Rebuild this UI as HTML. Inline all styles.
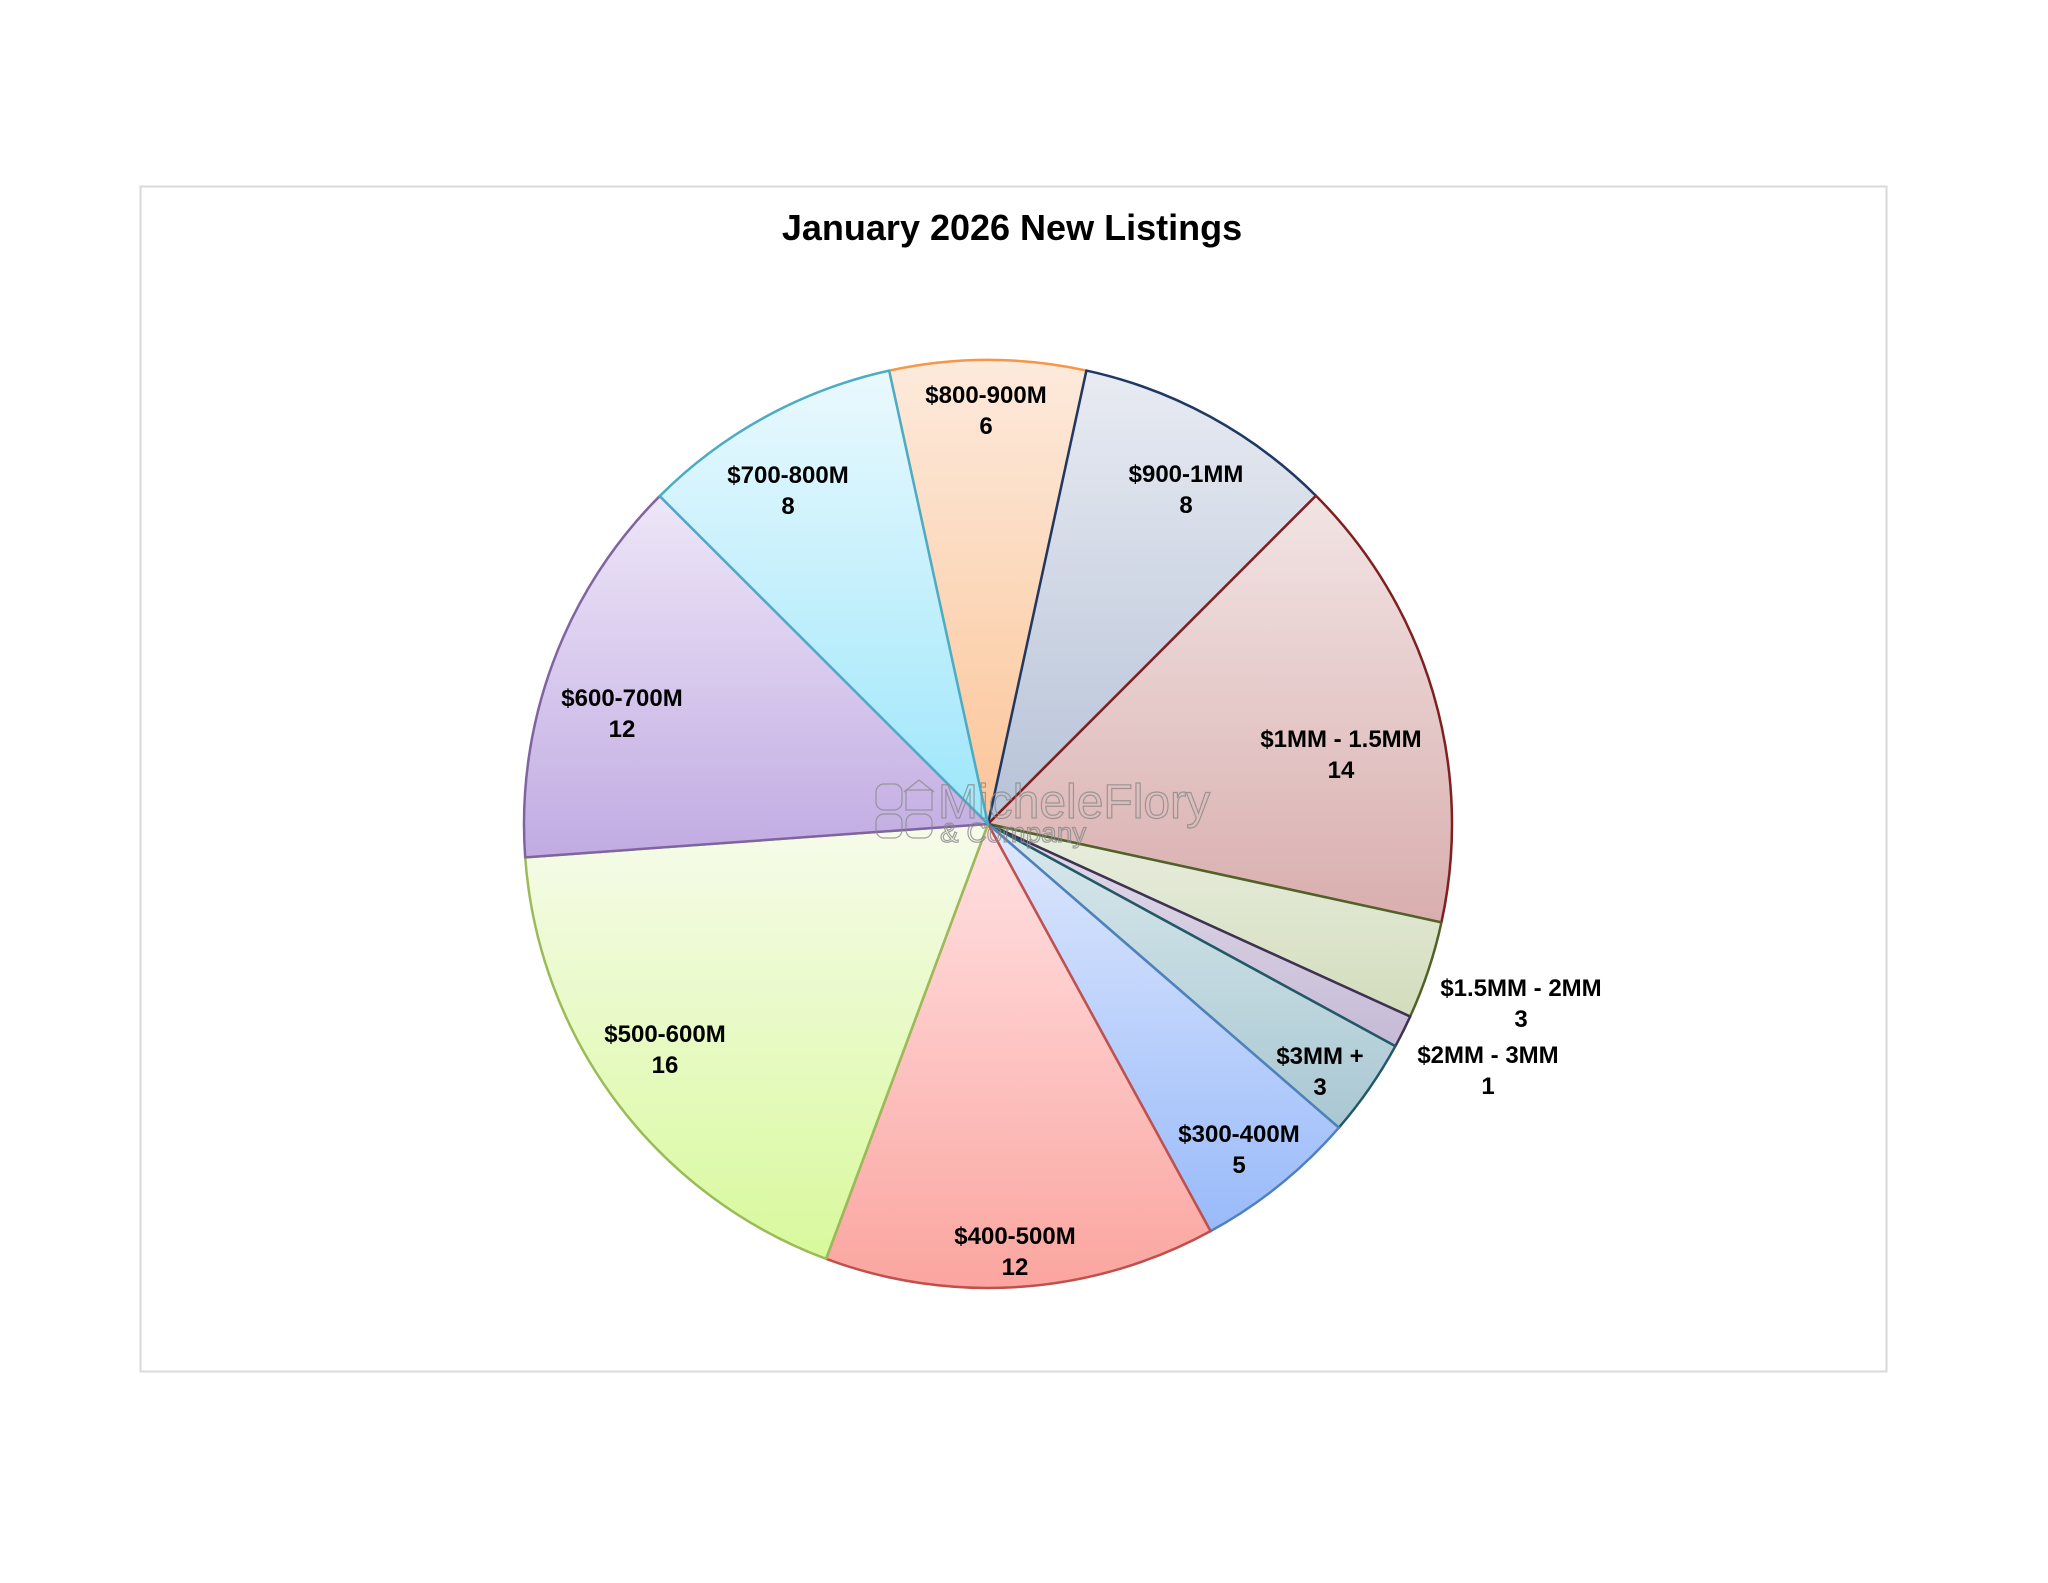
<!DOCTYPE html>
<html><head><meta charset="utf-8"><style>
html,body{margin:0;padding:0;background:#fff;width:2048px;height:1583px;overflow:hidden}
svg{display:block}
text{font-family:"Liberation Sans",Arial,sans-serif}
</style></head><body>
<svg width="2048" height="1583" viewBox="0 0 2048 1583" xmlns="http://www.w3.org/2000/svg">
<defs>
<linearGradient id="g0" x1="0" y1="0" x2="0" y2="1"><stop offset="0" stop-color="#fdeadc"/><stop offset="1" stop-color="#fbc598"/></linearGradient>
<linearGradient id="g1" x1="0" y1="0" x2="0" y2="1"><stop offset="0" stop-color="#e8ebf2"/><stop offset="1" stop-color="#b6c2d7"/></linearGradient>
<linearGradient id="g2" x1="0" y1="0" x2="0" y2="1"><stop offset="0" stop-color="#f2e4e4"/><stop offset="1" stop-color="#d9aeae"/></linearGradient>
<linearGradient id="g3" x1="0" y1="0" x2="0" y2="1"><stop offset="0" stop-color="#e9eedf"/><stop offset="1" stop-color="#d3dcbc"/></linearGradient>
<linearGradient id="g4" x1="0" y1="0" x2="0" y2="1"><stop offset="0" stop-color="#e2dcea"/><stop offset="1" stop-color="#c6bad6"/></linearGradient>
<linearGradient id="g5" x1="0" y1="0" x2="0" y2="1"><stop offset="0" stop-color="#d9e9ed"/><stop offset="1" stop-color="#a9c7d2"/></linearGradient>
<linearGradient id="g6" x1="0" y1="0" x2="0" y2="1"><stop offset="0" stop-color="#dee8fd"/><stop offset="1" stop-color="#99bafa"/></linearGradient>
<linearGradient id="g7" x1="0" y1="0" x2="0" y2="1"><stop offset="0" stop-color="#ffe2e4"/><stop offset="1" stop-color="#fba59f"/></linearGradient>
<linearGradient id="g8" x1="0" y1="0" x2="0" y2="1"><stop offset="0" stop-color="#f6fbea"/><stop offset="1" stop-color="#d8f99c"/></linearGradient>
<linearGradient id="g9" x1="0" y1="0" x2="0" y2="1"><stop offset="0" stop-color="#eee6f8"/><stop offset="1" stop-color="#c1abe2"/></linearGradient>
<linearGradient id="g10" x1="0" y1="0" x2="0" y2="1"><stop offset="0" stop-color="#eaf9fd"/><stop offset="1" stop-color="#9ce6fc"/></linearGradient>
</defs>
<rect x="140.5" y="186.5" width="1746" height="1185" fill="#fff" stroke="#d9d9d9" stroke-width="2"/>
<text x="1012" y="240" font-size="36" font-weight="bold" text-anchor="middle" fill="#000">January 2026 New Listings</text>
<g id="pie" stroke-width="2.5" stroke-linejoin="round"></g>
<g font-size="24" font-weight="bold" text-anchor="middle" fill="#000">
<text x="986" y="403">$800-900M</text><text x="986" y="434">6</text>
<text x="1186" y="482">$900-1MM</text><text x="1186" y="513">8</text>
<text x="1341" y="747">$1MM - 1.5MM</text><text x="1341" y="778">14</text>
<text x="1521" y="996">$1.5MM - 2MM</text><text x="1521" y="1027">3</text>
<text x="1488" y="1063">$2MM - 3MM</text><text x="1488" y="1094">1</text>
<text x="1320" y="1064">$3MM +</text><text x="1320" y="1095">3</text>
<text x="1239" y="1142">$300-400M</text><text x="1239" y="1173">5</text>
<text x="1015" y="1244">$400-500M</text><text x="1015" y="1275">12</text>
<text x="665" y="1042">$500-600M</text><text x="665" y="1073">16</text>
<text x="622" y="706">$600-700M</text><text x="622" y="737">12</text>
<text x="788" y="483">$700-800M</text><text x="788" y="514">8</text>
</g>
<g fill="none" stroke="#8a8a8a" stroke-width="1.2" opacity="0.8">
<rect x="876" y="784" width="26" height="26" rx="8"/><rect x="906" y="790" width="26" height="20"/><path d="M904 792 L919 780 L934 792"/>
<rect x="876" y="814" width="26" height="24" rx="8"/><rect x="906" y="814" width="26" height="24" rx="8"/>
<text x="938" y="818" font-size="48" fill="none" stroke="#8a8a8a">MicheleFlory</text>
<text x="940" y="842" font-size="28" fill="none" stroke="#8a8a8a">&amp; Company</text>
</g>
</svg>
<script>
(function(){
var cx=988,cy=824,r=464;
var vals=[6,8,14,3,1,3,5,12,16,12,8];
var fills=['g0','g1','g2','g3','g4','g5','g6','g7','g8','g9','g10'];
var strokes=['#f79646','#1f3864','#7f1f1f','#4f6228','#3f3151','#215967','#4f81bd','#c0504d','#9bbb59','#8064a2','#4bacc6'];
var tot=88,a=-12.3,g=document.getElementById('pie'),ns='http://www.w3.org/2000/svg';
function pt(d){var t=d*Math.PI/180;return [cx+r*Math.sin(t),cy-r*Math.cos(t)];}
for(var i=0;i<vals.length;i++){
 var s=vals[i]/tot*360,b=a+s,p1=pt(a),p2=pt(b);
 var p=document.createElementNS(ns,'path');
 p.setAttribute('d','M'+cx+' '+cy+' L'+p1[0].toFixed(2)+' '+p1[1].toFixed(2)+' A'+r+' '+r+' 0 '+(s>180?1:0)+' 1 '+p2[0].toFixed(2)+' '+p2[1].toFixed(2)+' Z');
 p.setAttribute('fill','url(#'+fills[i]+')');p.setAttribute('stroke',strokes[i]);
 g.appendChild(p);a=b;
}
})();
</script>
</body></html>
